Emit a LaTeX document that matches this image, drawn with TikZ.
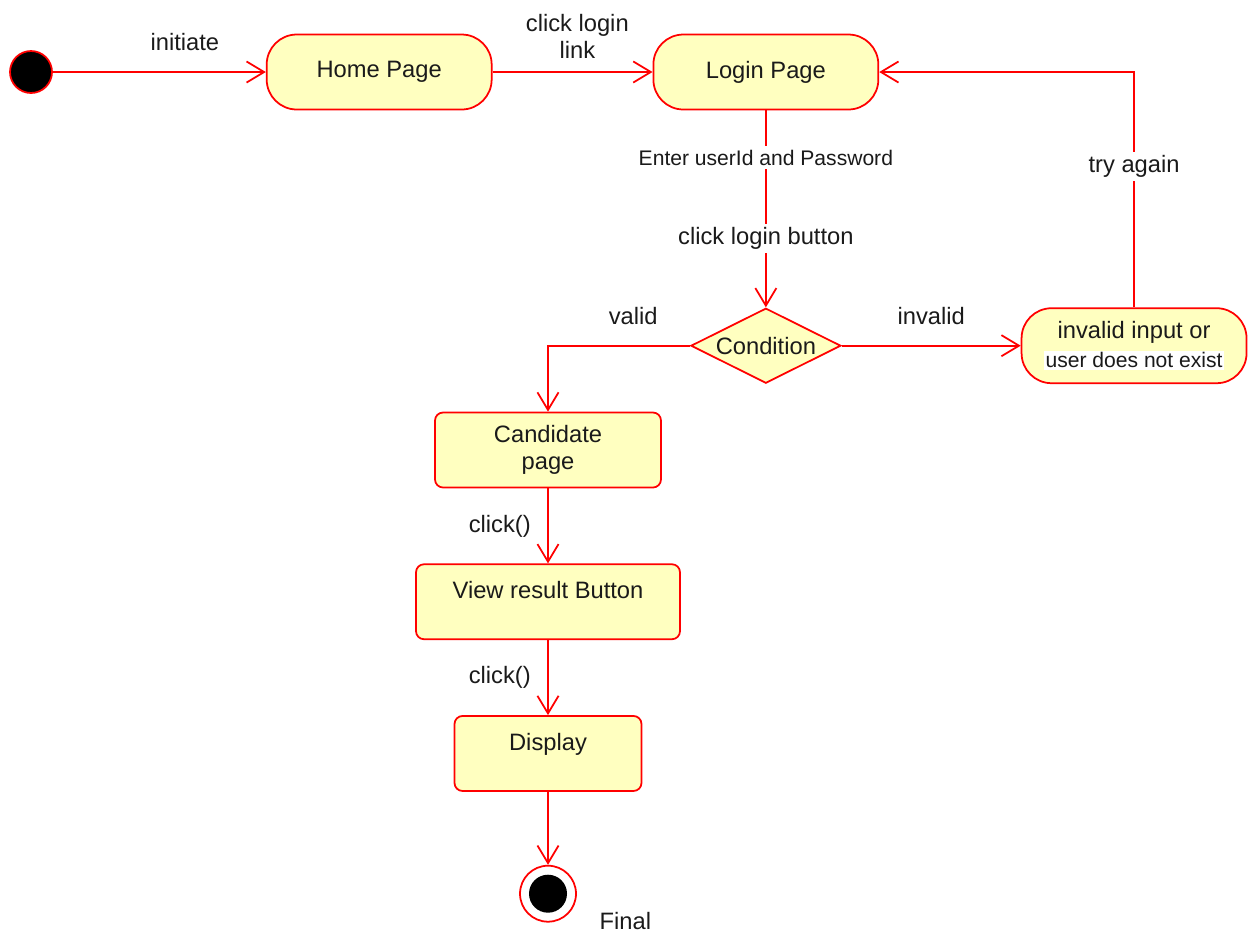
\documentclass[tikz,border=0pt]{standalone}
\usepackage{fontspec}
\setmainfont{Liberation Sans}
\usetikzlibrary{positioning,shapes.geometric,arrows.meta}
\definecolor{umlred}{HTML}{FF0000}
\definecolor{umlfill}{HTML}{FFFFC0}
\definecolor{txt}{HTML}{1A1A1A}
\setlength{\fboxsep}{1pt}

\begin{document}
\begin{tikzpicture}[
  x=0.02cm, y=-0.02cm,
  font=\fontsize{13.5}{15.5}\selectfont, text=txt,
  st/.style={draw=umlred, fill=umlfill, line width=1pt, rounded corners=0.6cm, align=center, minimum width=4.5cm, minimum height=1.5cm},
  act/.style={draw=umlred, fill=umlfill, line width=1pt, rounded corners=0.16cm, align=center, minimum height=1.5cm},
  cnd/.style={draw=umlred, fill=umlfill, line width=1pt, diamond, aspect=2, inner sep=0pt, minimum width=3cm, minimum height=1.5cm},
  dot/.style={circle, fill=black, draw=umlred, line width=1pt, minimum size=0.84cm, inner sep=0pt},
  arr/.style={-{Straight Barb[length=10pt,width=12pt]}, draw=umlred, line width=1pt},
  lbl/.style={fill=white, inner sep=2pt}
]
\useasboundingbox (0,0) rectangle (1250,938);

\node[dot] (start) at (31,72) {};
\node[st, right=4.26cm of start] (home) {Home Page};
\node[st, right=3.2cm of home] (login) {Login Page};

\node[cnd, below=3.94cm of login] (cond) {Condition};
\node[st, right=3.58cm of cond] (inv) {invalid input or\\[1pt] \colorbox{white}{\fontsize{12}{14}\selectfont user does not exist}};

\node[act, minimum width=4.52cm] (cand) at (548,450) {Candidate\\page};
\node[act, minimum width=5.28cm, below=1.5cm of cand, text height=10pt, text depth=13.6pt] (view) {View result Button};
\node[act, minimum width=3.74cm, below=1.5cm of view, text height=10pt, text depth=13.6pt] (disp) {Display};

\node[circle, draw=umlred, line width=1pt, minimum size=1.12cm, inner sep=0pt, below=1.46cm of disp] (final) {};
\node[circle, fill=black, minimum size=0.76cm, inner sep=0pt] (finaldot) at (final) {};
\node[right=0.5cm of final.south east, yshift=-0.14cm] (finallbl) {Final};

\draw[arr] (start) -- node[above=8pt, pos=0.62] {initiate} (home);
\draw[arr] (home) -- node[above=4pt, pos=0.53, align=center] {click login\\link} (login);
\draw[arr] (login) -- node[lbl, pos=0.24, font=\fontsize{12}{14}\selectfont] {Enter userId and Password}
  node[lbl, pos=0.65] {click login button} (cond);
\draw[arr] (cond) -- node[above=8pt] {invalid} (inv);
\draw[arr] (cond.west) -| node[above=8pt, pos=0.2] {valid} (cand.north);
\draw[arr] (inv.north) |- node[lbl, pos=0.3] {try again} (login.east);
\draw[arr] (cand) -- node[left=6pt] {click()} (view);
\draw[arr] (view) -- node[left=6pt] {click()} (disp);
\draw[arr] (disp) -- (final);

\end{tikzpicture}
\end{document}
